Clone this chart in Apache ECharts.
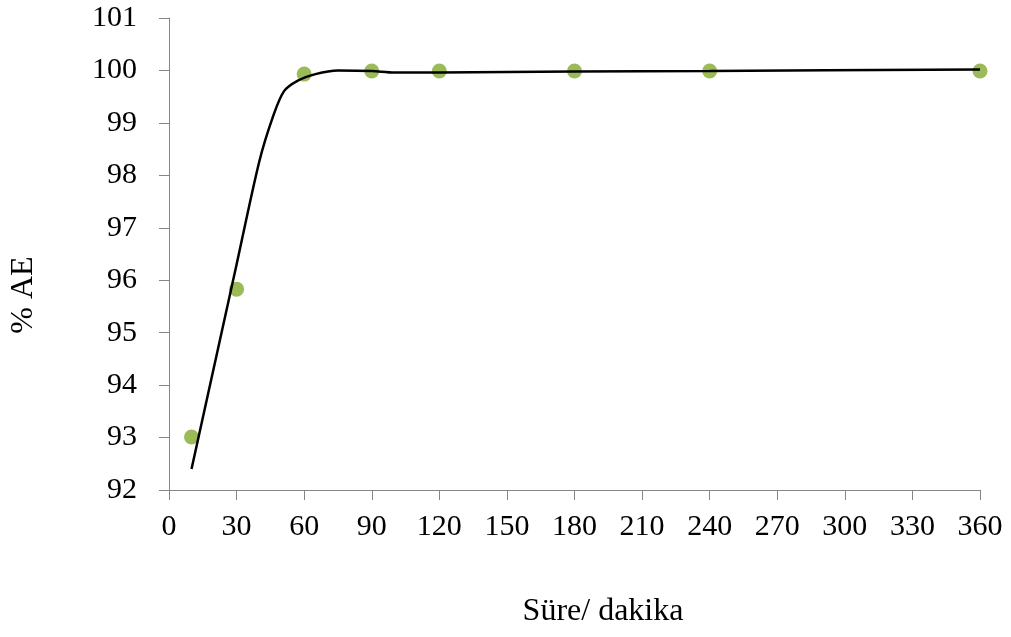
<!DOCTYPE html>
<html><head><meta charset="utf-8">
<script src="https://cdn.jsdelivr.net/npm/echarts@6/dist/echarts.min.js"></script>
<style>html,body{margin:0;padding:0;background:#fff}#c{width:1011px;height:637px}</style>
</head><body><div id="c"></div>
<script>
var pointX = [10, 30, 60, 90, 120, 180, 240, 360];
var pointY = [93.01, 95.83, 99.93, 99.99, 99.99, 99.99, 99.99, 99.99];
var curveX = [10, 30, 40, 46, 51, 57, 65, 75, 90, 100, 120, 180, 240, 360];
var curveY = [92.4, 96.3, 98.25, 99.1, 99.6, 99.8, 99.93, 100.0, 99.99, 99.96, 99.96, 99.98, 99.99, 100.02];
var xTicks = [0, 30, 60, 90, 120, 150, 180, 210, 240, 270, 300, 330, 360];
var yTicks = [92, 93, 94, 95, 96, 97, 98, 99, 100, 101];
var xTitle = 'Süre/ dakika';
var yTitle = '% AE';

var font = '"Liberation Serif","DejaVu Serif",serif';
var axisColor = '#868686';
var chart = echarts.init(document.getElementById('c'));
chart.setOption({
  animation: false,
  grid: {left: 169, right: 31, top: 18, bottom: 147},
  xAxis: {
    type: 'value', min: xTicks[0], max: xTicks[xTicks.length-1], interval: 30,
    axisLine: {show: true, lineStyle: {color: axisColor, width: 1}},
    axisTick: {show: true, length: 10, lineStyle: {color: axisColor}},
    splitLine: {show: false},
    axisLabel: {margin: 22, color: '#000', fontFamily: font, fontSize: 30}
  },
  yAxis: {
    type: 'value', min: yTicks[0], max: yTicks[yTicks.length-1], interval: 1,
    axisLine: {show: true, lineStyle: {color: axisColor, width: 1}},
    axisTick: {show: true, length: 10, inside: false, lineStyle: {color: axisColor}},
    splitLine: {show: false},
    axisLabel: {margin: 32, color: '#000', fontFamily: font, fontSize: 30}
  },
  graphic: [
    {type: 'text', x: 603, y: 612, style: {text: xTitle, font: '32px ' + font, fill: '#000', textAlign: 'center', textVerticalAlign: 'middle'}},
    {type: 'text', x: 24, y: 295, rotation: Math.PI/2, style: {text: yTitle, font: '32px ' + font, fill: '#000', textAlign: 'center', textVerticalAlign: 'middle'}}
  ],
  series: [
    {type: 'scatter', data: pointX.map(function(x,i){return [x, pointY[i]];}), symbol: 'circle', symbolSize: 15,
     itemStyle: {color: '#9BBB59', opacity: 1}, z: 2},
    {type: 'line', data: curveX.map(function(x,i){return [x, curveY[i]];}), smooth: 0.3, showSymbol: false, symbol: 'none',
     lineStyle: {color: '#000', width: 2.5}, z: 3}
  ]
});
</script></body></html>
